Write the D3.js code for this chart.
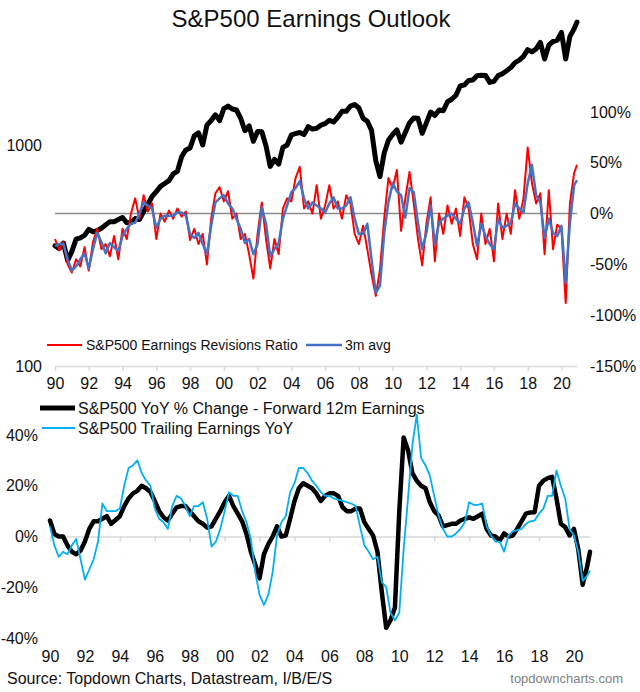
<!DOCTYPE html>
<html><head><meta charset="utf-8">
<script src="https://cdn.jsdelivr.net/npm/d3@7"></script>
<style>
body{margin:0;background:#fff;}
svg{font-family:"Liberation Sans",Arial,sans-serif;}
</style></head><body>
<svg id="c" width="640" height="692"></svg>
<script>
// ---- categories: quarterly periods (decimal years) + final Nov-2020 point
const periods = [];
for (let y = 1990; y <= 2020; y++) for (let q = 0; q < 4; q++) periods.push(y + q / 4);
periods.push(2020.92);

// ---- tick labels
const yearTicks = [1990,1992,1994,1996,1998,2000,2002,2004,2006,2008,2010,2012,2014,2016,2018,2020];
const yearLabels = ["90","92","94","96","98","00","02","04","06","08","10","12","14","16","18","20"];
const leftTopTicks = [100, 1000];
const rightTopTicks = [-1.5, -1.0, -0.5, 0, 0.5, 1.0];
const bottomTicks = [-0.4, -0.2, 0, 0.2, 0.4];

// ---- top panel series
const spx = [
 350,340,360,300, 330,375,380,390, 415,405,410,420, 435,450,450,460,
 470,445,445,465, 460,500,540,585, 615,650,670,690, 740,760,885,950,
 970,1100,1135,1000, 1230,1290,1370,1290, 1460,1500,1455,1440, 1320,1160,1220,1040,
 1150,1147,990,800, 860,820,975,1000, 1110,1125,1140,1115, 1210,1180,1190,1230,
 1250,1295,1270,1335, 1420,1420,1500,1525, 1470,1320,1280,1165, 850,720,920,1050,
 1115,1170,1030,1140, 1260,1325,1320,1130, 1260,1410,1360,1440, 1430,1570,1610,1680,
 1850,1870,1960,1970, 2060,2070,2065,1920, 1940,2060,2100,2170, 2240,2360,2420,2520,
 2700,2640,2720,2910, 2450,2830,2940,2980, 3230,2450,3100,3360, 3600
];
const revisions = [
 -0.25,-0.36,-0.28,-0.50, -0.58,-0.45,-0.52,-0.33, -0.56,-0.28,-0.15,-0.35, -0.30,-0.42,-0.22,-0.45,
 -0.15,-0.25,0.00,0.15, -0.05,0.18,0.02,0.10, -0.25,0.00,-0.08,0.03, -0.05,0.05,-0.03,0.02,
 -0.26,-0.15,-0.30,-0.20, -0.50,-0.05,0.20,0.26, 0.12,0.22,-0.05,0.00, -0.25,-0.20,-0.40,-0.64,
 -0.20,0.11,-0.25,-0.54, -0.25,-0.40,0.05,0.15, 0.12,0.35,0.46,0.05, 0.12,0.00,0.28,-0.05,
 0.08,0.28,0.05,0.12, -0.05,0.18,0.10,-0.20, -0.30,-0.12,-0.35,-0.60, -0.81,-0.55,-0.05,0.35,
 0.25,0.43,-0.17,0.15, 0.41,0.10,-0.25,-0.51, -0.10,0.16,-0.47,0.00, -0.20,0.08,-0.10,0.05,
 -0.22,0.16,0.05,-0.30, -0.45,0.00,-0.30,-0.15, -0.47,0.10,-0.25,0.00, -0.20,0.23,-0.05,0.15,
 0.65,0.30,0.10,0.20, -0.40,0.23,-0.35,-0.11, -0.15,-0.88,0.10,0.40, 0.48
];
const revisions3m = [
 -0.32,-0.30,-0.30,-0.45, -0.56,-0.52,-0.45,-0.39, -0.54,-0.35,-0.19,-0.28, -0.39,-0.29,-0.33,-0.37,
 -0.22,-0.15,-0.10,-0.09, 0.00,0.11,0.08,0.05, -0.14,-0.05,-0.02,-0.02, -0.02,0.01,0.01,-0.02,
 -0.20,-0.24,-0.19,-0.30, -0.40,-0.12,0.11,0.15, 0.18,0.10,0.05,-0.05, -0.15,-0.29,-0.25,-0.40,
 -0.30,0.06,-0.10,-0.42, -0.35,-0.29,-0.05,0.08, 0.21,0.25,0.32,0.15, 0.05,0.11,0.08,0.05,
 0.01,0.10,0.16,0.05, 0.05,0.08,0.16,-0.05, -0.20,-0.20,-0.10,-0.45, -0.78,-0.71,-0.19,0.11,
 0.30,0.22,0.18,-0.04, 0.25,0.21,-0.09,-0.35, -0.19,0.08,-0.30,-0.09, -0.05,-0.02,0.00,-0.05,
 -0.10,0.05,0.11,-0.09, -0.32,-0.10,-0.22,-0.30, -0.35,-0.05,-0.14,-0.12, -0.09,0.10,0.05,0.01,
 0.30,0.48,0.18,0.11, -0.24,-0.05,-0.19,-0.22, -0.12,-0.68,-0.09,0.28, 0.33
];

// ---- bottom panel series
const fwdEpsYoY = [
 0.063,0.01,0.00,0.00, -0.035,-0.06,-0.07,-0.055, -0.02,0.03,0.06,0.06, 0.07,0.08,0.05,0.065,
 0.08,0.12,0.15,0.17, 0.18,0.20,0.19,0.175, 0.14,0.10,0.076,0.063, 0.09,0.115,0.12,0.12,
 0.10,0.08,0.06,0.05, 0.035,0.04,0.07,0.10, 0.135,0.16,0.12,0.09, 0.06,0.01,-0.06,-0.11,
 -0.165,-0.07,-0.03,0.00, 0.04,0.00,0.004,0.07, 0.14,0.19,0.21,0.20, 0.19,0.17,0.14,0.16,
 0.17,0.17,0.16,0.115, 0.10,0.10,0.11,0.11, 0.056,0.03,0.004,-0.06, -0.22,-0.36,-0.33,-0.28,
 0.10,0.39,0.34,0.25, 0.22,0.20,0.19,0.135, 0.10,0.083,0.04,0.045, 0.05,0.05,0.063,0.07,
 0.075,0.07,0.08,0.09, 0.03,0.004,0.00,-0.016, 0.012,0.00,0.004,0.03, 0.06,0.09,0.095,0.096,
 0.20,0.22,0.23,0.235, 0.15,0.05,0.037,0.004, 0.03,-0.05,-0.19,-0.12, -0.06
];
const trailingEpsYoY = [
 0.04,-0.035,-0.08,-0.06, -0.07,-0.035,-0.01,-0.09, -0.17,-0.13,-0.09,-0.02, 0.13,0.10,0.10,0.10,
 0.11,0.20,0.27,0.28, 0.30,0.25,0.22,0.20, 0.11,0.07,0.056,0.03, 0.12,0.16,0.15,0.12,
 0.08,0.12,0.12,0.135, 0.07,-0.04,-0.02,0.03, 0.10,0.175,0.16,0.16, 0.10,0.056,-0.01,-0.14,
 -0.23,-0.27,-0.23,-0.14, 0.004,0.056,0.08,0.175, 0.21,0.27,0.27,0.25, 0.22,0.20,0.175,0.16,
 0.16,0.15,0.145,0.14, 0.135,0.13,0.12,0.04, -0.035,-0.06,-0.09,-0.08, -0.18,-0.20,-0.30,-0.33,
 -0.30,-0.05,0.15,0.36, 0.48,0.31,0.28,0.24, 0.16,0.083,0.03,0.00, 0.00,0.012,0.03,0.056,
 0.135,0.125,0.125,0.13, 0.04,0.004,-0.02,-0.02, -0.06,0.004,0.02,0.025, 0.03,0.05,0.06,0.063,
 0.09,0.11,0.16,0.16, 0.26,0.20,0.15,0.03, 0.004,-0.06,-0.175,-0.155, -0.135
];

// ---- drawing
const svg = d3.select("#c");
svg.append("rect").attr("width",640).attr("height",692).attr("fill","#fff");

svg.append("text").attr("x",311).attr("y",27).attr("text-anchor","middle")
  .attr("font-size",24).attr("fill","#111").text("S&P500 Earnings Outlook");

const pct = d => Math.round(d*100) + "%";

// Top panel scales
const xTop = d3.scaleLinear().domain([1990, 2020.92]).range([55, 577]);
const yLeft = d3.scaleLog().domain([100, 1000]).range([366, 145]);
const yRight = d3.scaleLinear().domain([-1.5, 1.0]).range([366, 112]);

// Bottom panel scales
const xBot = d3.scaleLinear().domain([1990, 2020.92]).range([50, 590]);
const yBot = d3.scaleLinear().domain([-0.4, 0.4]).range([638, 435]);

function styleAxis(g, opts) {
  g.selectAll("text").attr("font-size", 16).attr("fill", "#111")
    .attr("font-family", '"Liberation Sans",Arial,sans-serif');
  g.selectAll(".tick line").attr("stroke", "#d9d9d9").attr("stroke-width", 1.5);
  if (opts && opts.noDomain) g.select(".domain").remove();
  else g.select(".domain").attr("stroke", "#d9d9d9").attr("stroke-width", 1.5);
}

// top x axis
svg.append("g").attr("transform","translate(0,366)")
  .call(d3.axisBottom(xTop).tickValues(yearTicks).tickFormat((d,i)=>yearLabels[i])
    .tickSizeInner(5).tickSizeOuter(0).tickPadding(7))
  .call(g => styleAxis(g));

// top left axis (log)
svg.append("g").attr("transform","translate(55,0)")
  .call(d3.axisLeft(yLeft).tickValues(leftTopTicks).tickFormat(d3.format("d")).tickSize(0).tickPadding(13))
  .call(g => styleAxis(g, {noDomain:true}));

// top right axis
svg.append("g").attr("transform","translate(577,0)")
  .call(d3.axisRight(yRight).tickValues(rightTopTicks).tickFormat(pct).tickSize(0).tickPadding(13))
  .call(g => styleAxis(g, {noDomain:true}));

// zero line top (right axis)
svg.append("line").attr("x1", xTop(1990)).attr("x2", xTop(2020.92))
  .attr("y1", yRight(0)).attr("y2", yRight(0)).attr("stroke","#8c8c8c").attr("stroke-width",1.5);

const lineSpx = d3.line().x((d,i)=>xTop(periods[i])).y(d=>yLeft(d));
const lineRev = d3.line().x((d,i)=>xTop(periods[i])).y(d=>yRight(d));
svg.append("path").datum(spx).attr("d", lineSpx).attr("fill","none")
  .attr("stroke","#000").attr("stroke-width",5).attr("stroke-linejoin","round").attr("stroke-linecap","round");
svg.append("path").datum(revisions).attr("d", lineRev).attr("fill","none")
  .attr("stroke","#ff0000").attr("stroke-width",2).attr("stroke-linejoin","round");
svg.append("path").datum(revisions3m).attr("d", lineRev).attr("fill","none")
  .attr("stroke","#4472c4").attr("stroke-width",2.5).attr("stroke-linejoin","round");

// top legend
const lg1 = svg.append("g").attr("font-size",14).attr("fill","#111");
lg1.append("line").attr("x1",47).attr("x2",82).attr("y1",345).attr("y2",345).attr("stroke","#ff0000").attr("stroke-width",2);
lg1.append("text").attr("x",86).attr("y",350).text("S&P500 Earnings Revisions Ratio");
lg1.append("line").attr("x1",306).attr("x2",342).attr("y1",345).attr("y2",345).attr("stroke","#4472c4").attr("stroke-width",2.5);
lg1.append("text").attr("x",345).attr("y",350).text("3m avg");

// bottom zero axis with ticks
svg.append("g").attr("transform",`translate(0,${yBot(0)})`)
  .call(d3.axisBottom(xBot).tickValues(yearTicks).tickFormat("").tickSizeInner(5).tickSizeOuter(0))
  .call(g => styleAxis(g));
// bottom labels (low position)
svg.append("g").attr("transform","translate(0,645)")
  .call(d3.axisBottom(xBot).tickValues(yearTicks).tickFormat((d,i)=>yearLabels[i]).tickSize(0).tickPadding(6))
  .call(g => styleAxis(g, {noDomain:true}));
// bottom left axis
svg.append("g").attr("transform","translate(50,0)")
  .call(d3.axisLeft(yBot).tickValues(bottomTicks).tickFormat(pct).tickSize(0).tickPadding(12))
  .call(g => styleAxis(g, {noDomain:true}));

const lineBot = d3.line().x((d,i)=>xBot(periods[i])).y(d=>yBot(d));
svg.append("path").datum(fwdEpsYoY).attr("d", lineBot).attr("fill","none")
  .attr("stroke","#000").attr("stroke-width",4.5).attr("stroke-linejoin","round").attr("stroke-linecap","round");
svg.append("path").datum(trailingEpsYoY).attr("d", lineBot).attr("fill","none")
  .attr("stroke","#00b0f0").attr("stroke-width",1.8).attr("stroke-linejoin","round");

// bottom legend
const lg2 = svg.append("g").attr("font-size",16).attr("fill","#111");
lg2.append("line").attr("x1",40).attr("x2",75).attr("y1",408).attr("y2",408).attr("stroke","#000").attr("stroke-width",5);
lg2.append("text").attr("x",78).attr("y",414).text("S&P500 YoY % Change - Forward 12m Earnings");
lg2.append("line").attr("x1",42).attr("x2",75).attr("y1",428).attr("y2",428).attr("stroke","#00b0f0").attr("stroke-width",2);
lg2.append("text").attr("x",78).attr("y",434).text("S&P500 Trailing Earnings YoY");

// footer
svg.append("text").attr("x",7).attr("y",684).attr("font-size",16).attr("fill","#111")
  .text("Source: Topdown Charts, Datastream, I/B/E/S");
svg.append("text").attr("x",623).attr("y",683).attr("text-anchor","end").attr("font-size",13).attr("fill","#7f7f7f")
  .text("topdowncharts.com");
</script>
</body></html>
